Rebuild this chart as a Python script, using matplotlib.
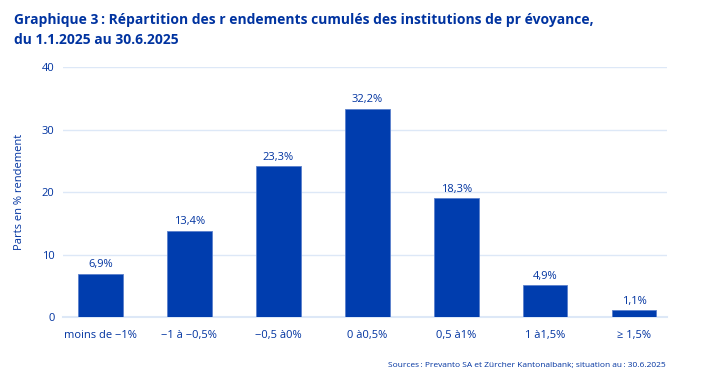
import matplotlib.pyplot as plt

# categories and values
categories = ["moins de \u22121%", "\u22121 à \u22120,5%", "\u22120,5 à0%", "0 à0,5%",
              "0,5 à1%", "1 à1,5%", "\u2265 1,5%"]
heights = [7.0, 13.8, 24.1, 33.3, 19.0, 5.1, 1.1]
value_labels = ["6,9%", "13,4%", "23,3%", "32,2%", "18,3%", "4,9%", "1,1%"]
y_ticks = [0, 10, 20, 30, 40]

blue = "#003DAE"
text_blue = "#0033A0"
grid_blue = "#DDE8F7"

plt.rcParams["font.family"] = ["Open Sans", "DejaVu Sans"]

fig = plt.figure(figsize=(7.12, 3.76), dpi=100)
ax = fig.add_axes([0.0885, 0.156, 0.8485, 0.666])

x = list(range(len(categories)))
bars = ax.bar(x, heights, width=0.5, color=blue, edgecolor="#5A80CC", linewidth=0.6, zorder=3)

for xi, h, lab in zip(x, heights, value_labels):
    ax.text(xi, h + 0.6, lab, ha="center", va="bottom", fontsize=8, color=text_blue)

ax.set_ylim(0, 40)
ax.set_xlim(-0.42, 6.37)
ax.set_yticks(y_ticks)
ax.set_xticks(x)
ax.set_xticklabels(categories)
ax.tick_params(axis="both", length=0, colors=text_blue, labelsize=8)
ax.tick_params(axis="x", pad=9)
ax.tick_params(axis="y", pad=6)
ax.grid(axis="y", color=grid_blue, linewidth=1, zorder=0)
for s in ["top", "right", "left"]:
    ax.spines[s].set_visible(False)
ax.spines["bottom"].set_color(grid_blue)
ax.spines["bottom"].set_linewidth(1.5)

ax.set_ylabel("Parts en % rendement", color=text_blue, fontsize=8, labelpad=12)

fig.text(0.02, 0.965, "Graphique 3\u2009: Répartition des r endements cumulés des institutions de pr évoyance,\ndu 1.1.2025 au 30.6.2025",
         ha="left", va="top", fontsize=10, fontweight="bold", color=text_blue, linespacing=1.5)
fig.text(0.935, 0.018, "Sources\u2009: Prevanto SA et Zürcher Kantonalbank; situation au\u2009: 30.6.2025",
         ha="right", va="bottom", fontsize=6.0, color=text_blue)

fig.savefig("out.png", dpi=100)
